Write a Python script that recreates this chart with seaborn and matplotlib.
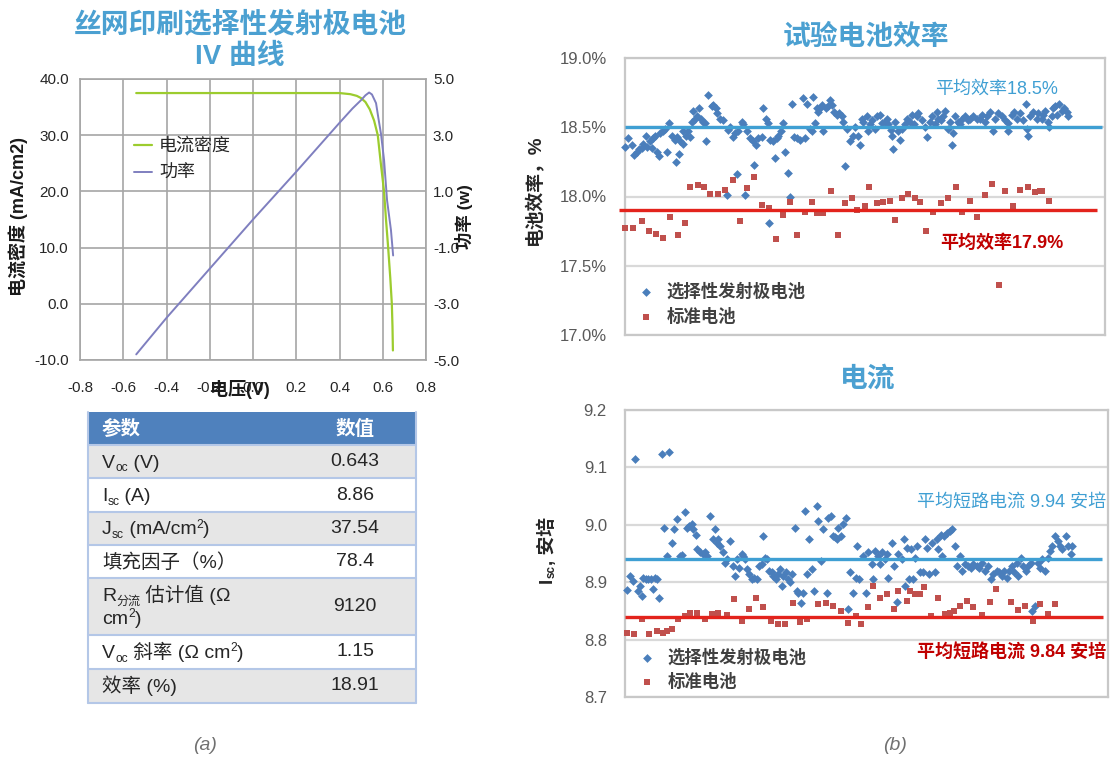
import numpy as np
import pandas as pd
import matplotlib
matplotlib.use("Agg")
import matplotlib.pyplot as plt
from matplotlib.patches import Rectangle
from matplotlib.lines import Line2D
import seaborn as sns

# ---------------------------------------------------------------- data
# IV curve of the screen-printed selective emitter cell
iv_voltage = [-0.54, 0.40, 0.45, 0.48, 0.50, 0.52, 0.54, 0.56, 0.577, 0.591,
              0.606, 0.615, 0.625, 0.635, 0.642, 0.645, 0.647]
iv_current = [37.5, 37.5, 37.3, 37.0, 36.6, 35.9, 34.6, 32.6, 30.0, 25.0,
              20.0, 15.0, 10.0, 4.5, 0.0, -4.0, -8.3]
pw_voltage = [-0.54, -0.40, -0.20, 0.00, 0.20, 0.40, 0.46, 0.50, 0.52, 0.537,
              0.55, 0.569, 0.58, 0.592, 0.606, 0.62, 0.638, 0.648]
pw_power = [-4.80, -3.50, -1.75, 0.00, 1.70, 3.44, 3.95, 4.25, 4.42, 4.52,
            4.45, 4.14, 3.60, 3.04, 2.12, 0.68, -0.38, -1.28]
iv_xticks = [-0.8, -0.6, -0.4, -0.2, 0.0, 0.2, 0.4, 0.6, 0.8]
iv_yticks = [-10, 0, 10, 20, 30, 40]
pw_yticks = [-5, -3, -1, 1, 3, 5]

# Parameter table
table_header = ["参数", "数值"]
table_params = [
    [[("V", ""), ("oc", "sub"), (" (V)", "")]],
    [[("I", ""), ("sc", "sub"), (" (A)", "")]],
    [[("J", ""), ("sc", "sub"), (" (mA/cm", ""), ("2", "sup"), (")", "")]],
    [[("填充因子（%）", "")]],
    [[("R", ""), ("分流", "sub"), (" 估计值 (Ω", "")],
     [("cm", ""), ("2", "sup"), (")", "")]],
    [[("V", ""), ("oc", "sub"), (" 斜率 (Ω cm", ""), ("2", "sup"), (")", "")]],
    [[("效率 (%)", "")]],
]
table_values = ["0.643", "8.86", "37.54", "78.4", "9120", "1.15", "18.91"]

# Cell efficiency (%) per test cell: (cell position, value)
eff_selective = [
    (0.0, 18.36), (1.7, 18.42), (3.3, 18.37), (4.5, 18.30), (5.8, 18.32), (7.2, 18.34),
    (8.3, 18.35), (9.2, 18.38), (10.5, 18.44), (11.2, 18.36), (12.5, 18.40), (13.3, 18.35),
    (14.2, 18.42), (15.0, 18.44), (15.8, 18.32), (17.2, 18.29), (17.5, 18.46), (18.8, 18.47),
    (20.0, 18.49), (21.2, 18.32), (22.2, 18.53), (23.3, 18.44), (25.0, 18.41), (25.3, 18.25),
    (25.8, 18.43), (27.2, 18.31), (27.5, 18.40), (28.8, 18.38), (29.2, 18.47), (30.5, 18.44),
    (31.7, 18.47), (32.5, 18.43), (33.3, 18.54), (34.2, 18.62), (35.0, 18.56), (36.2, 18.58),
    (37.2, 18.64), (37.8, 18.56), (38.8, 18.54), (40.0, 18.53), (40.5, 18.40), (41.7, 18.73),
    (43.3, 18.65), (44.2, 18.66), (45.5, 18.64), (46.2, 18.60), (47.5, 18.56), (49.2, 18.55),
    (50.8, 18.01), (51.7, 18.48), (52.5, 18.50), (53.8, 18.43), (55.0, 18.46), (55.8, 18.16),
    (56.7, 18.47), (58.3, 18.54), (59.2, 18.52), (60.0, 18.01), (60.8, 18.47), (62.5, 18.42),
    (64.2, 18.40), (64.5, 18.23), (65.5, 18.37), (66.7, 18.42), (68.3, 18.43), (69.2, 18.64),
    (70.5, 18.56), (71.7, 18.53), (72.2, 17.81), (72.5, 18.41), (73.8, 18.40), (75.0, 18.28),
    (75.8, 18.42), (76.7, 18.44), (77.8, 18.47), (79.2, 18.53), (80.0, 18.32), (81.7, 18.17),
    (82.5, 18.00), (83.3, 18.67), (84.5, 18.43), (85.8, 18.42), (87.5, 18.41), (88.8, 18.71),
    (90.0, 18.42), (91.2, 18.67), (92.5, 18.49), (93.3, 18.47), (94.2, 18.72), (95.0, 18.53),
    (95.8, 18.64), (96.7, 18.61), (97.5, 18.64), (98.3, 18.66), (99.2, 18.47), (100.5, 18.64),
    (101.7, 18.65), (102.5, 18.70), (103.3, 18.66), (104.5, 18.61), (105.8, 18.59), (107.2, 18.60),
    (108.3, 18.58), (109.2, 18.54), (110.0, 18.22), (110.8, 18.49), (112.5, 18.40), (113.8, 18.44),
    (115.0, 18.50), (116.7, 18.44), (117.5, 18.37), (118.3, 18.56), (119.2, 18.54), (120.8, 18.58),
    (121.7, 18.47), (122.5, 18.52), (123.3, 18.55), (125.0, 18.49), (125.8, 18.58), (127.5, 18.59),
    (128.3, 18.53), (130.0, 18.54), (130.8, 18.56), (131.7, 18.52), (133.0, 18.48), (133.3, 18.44),
    (134.2, 18.34), (135.0, 18.54), (136.3, 18.47), (137.5, 18.41), (138.3, 18.49), (140.0, 18.52),
    (140.8, 18.56), (142.5, 18.54), (143.3, 18.59), (144.7, 18.52), (145.8, 18.58), (146.7, 18.60),
    (148.3, 18.55), (150.0, 18.50), (150.8, 18.43), (152.5, 18.54), (153.3, 18.58), (155.0, 18.52),
    (155.8, 18.61), (156.7, 18.56), (158.0, 18.55), (159.2, 18.58), (160.0, 18.62), (161.3, 18.49),
    (162.5, 18.54), (163.3, 18.37), (164.2, 18.46), (165.0, 18.58), (166.3, 18.54), (167.5, 18.52),
    (168.3, 18.56), (170.0, 18.58), (171.7, 18.55), (172.5, 18.56), (174.2, 18.58), (175.8, 18.56),
    (177.5, 18.56), (178.3, 18.59), (180.0, 18.54), (180.8, 18.58), (182.5, 18.61), (184.2, 18.47),
    (185.0, 18.56), (186.7, 18.60), (188.3, 18.58), (190.0, 18.55), (191.3, 18.47), (191.7, 18.53),
    (193.3, 18.59), (194.7, 18.61), (195.8, 18.56), (197.5, 18.60), (199.2, 18.55), (200.3, 18.67),
    (200.8, 18.49), (201.7, 18.44), (202.5, 18.58), (204.2, 18.61), (205.8, 18.56), (206.7, 18.60),
    (208.3, 18.56), (209.2, 18.59), (210.0, 18.62), (211.3, 18.54), (212.0, 18.50), (213.3, 18.58),
    (214.2, 18.64), (215.0, 18.65), (215.8, 18.59), (217.0, 18.67), (218.3, 18.62), (219.7, 18.64),
    (220.8, 18.61), (221.7, 18.58),
]
eff_standard = [
    (0.0, 17.77), (4.2, 17.77), (8.3, 17.82), (12.2, 17.75), (15.5, 17.73), (18.8, 17.70),
    (22.5, 17.85), (26.3, 17.72), (30.0, 17.81), (32.5, 18.07), (36.7, 18.08), (39.5, 18.07),
    (42.5, 18.02), (46.7, 18.02), (50.0, 18.05), (54.2, 18.12), (57.5, 17.82), (60.8, 18.06),
    (64.5, 18.14), (68.3, 17.94), (72.2, 17.92), (75.5, 17.69), (78.8, 17.87), (82.5, 17.96),
    (86.2, 17.72), (90.0, 17.89), (93.3, 17.96), (96.2, 17.88), (99.2, 17.88), (102.8, 18.04),
    (106.7, 17.72), (110.0, 17.95), (113.3, 17.99), (115.8, 17.90), (120.0, 17.93), (122.0, 18.07),
    (125.8, 17.95), (129.2, 17.96), (132.5, 17.97), (135.0, 17.83), (138.3, 17.99), (141.3, 18.02),
    (145.0, 17.99), (147.5, 17.96), (150.3, 17.75), (154.2, 17.89), (158.0, 17.95), (161.7, 17.99),
    (165.3, 18.07), (168.7, 17.89), (172.5, 17.97), (175.8, 17.85), (180.0, 18.01), (183.3, 18.09),
    (187.0, 17.36), (190.0, 18.04), (194.2, 17.93), (197.5, 18.05), (201.3, 18.07), (205.0, 18.03),
    (207.5, 18.04), (208.7, 18.04), (212.0, 17.97),
]
eff_mean_selective = 18.5
eff_mean_standard = 17.9
eff_yticks = [17.0, 17.5, 18.0, 18.5, 19.0]

# Short-circuit current (A) per test cell: (cell position, value)
cur_selective = [
    (1.2, 8.887), (2.5, 8.911), (4.2, 8.902), (5.0, 9.114), (6.7, 8.885), (7.5, 8.894),
    (8.3, 8.876), (9.2, 8.908), (10.5, 8.906), (11.7, 8.905), (12.8, 8.906), (14.2, 8.888),
    (15.0, 8.908), (16.2, 8.906), (17.2, 8.873), (18.3, 9.123), (19.5, 8.995), (20.8, 8.946),
    (22.2, 9.127), (23.3, 8.969), (24.5, 8.992), (25.8, 9.010), (27.5, 8.946), (28.3, 8.948),
    (30.0, 9.022), (31.2, 8.995), (32.2, 8.998), (33.3, 9.001), (34.2, 8.992), (35.5, 8.983),
    (36.2, 8.957), (37.5, 8.952), (38.8, 8.949), (40.0, 8.952), (41.2, 8.946), (42.5, 9.015),
    (43.8, 8.975), (45.0, 8.993), (45.8, 8.969), (46.7, 8.975), (47.5, 8.963), (48.8, 8.952),
    (50.0, 8.934), (50.8, 8.940), (52.5, 8.972), (53.8, 8.928), (55.0, 8.911), (55.8, 8.940),
    (57.2, 8.925), (58.3, 8.949), (59.2, 8.946), (60.0, 8.940), (61.2, 8.923), (62.2, 8.914),
    (63.3, 8.905), (64.5, 8.908), (65.8, 8.905), (67.2, 8.928), (68.3, 8.931), (69.2, 8.981),
    (70.0, 8.943), (70.8, 8.940), (72.2, 8.920), (73.3, 8.917), (74.2, 8.911), (75.5, 8.905),
    (76.7, 8.914), (77.5, 8.923), (78.3, 8.894), (79.2, 8.911), (80.5, 8.917), (81.7, 8.905),
    (82.5, 8.900), (83.3, 8.914), (85.2, 8.995), (85.8, 8.885), (86.7, 8.882), (87.8, 8.864),
    (88.8, 8.882), (90.0, 9.024), (90.8, 8.914), (92.2, 8.976), (93.3, 8.923), (94.5, 8.885),
    (95.8, 9.033), (96.7, 9.007), (97.8, 8.937), (99.2, 8.993), (100.8, 8.882), (101.7, 9.012),
    (102.8, 9.015), (103.8, 8.981), (105.0, 8.978), (105.8, 8.975), (106.7, 8.995), (107.8, 8.981),
    (109.2, 9.001), (110.5, 9.012), (111.7, 8.853), (112.5, 8.917), (113.8, 8.882), (115.5, 8.908),
    (116.2, 8.963), (117.2, 8.905), (119.2, 8.946), (120.3, 8.882), (121.7, 8.952), (123.3, 8.931),
    (124.2, 8.905), (125.0, 8.954), (126.3, 8.946), (127.5, 8.931), (128.7, 8.952), (130.0, 8.940),
    (130.8, 8.949), (131.7, 8.908), (133.3, 8.969), (134.7, 8.928), (135.8, 8.865), (136.7, 8.949),
    (138.3, 8.940), (139.7, 8.975), (140.0, 8.894), (140.8, 8.960), (142.0, 8.905), (143.0, 8.957),
    (144.2, 8.905), (145.0, 8.943), (145.8, 8.963), (147.5, 8.917), (149.2, 8.917), (150.0, 8.975),
    (150.8, 8.960), (152.0, 8.914), (153.3, 8.969), (155.0, 8.917), (155.8, 8.975), (156.7, 8.957),
    (158.0, 8.983), (158.7, 8.946), (159.7, 8.981), (160.8, 8.986), (162.5, 8.989), (163.7, 8.992),
    (165.0, 8.963), (165.8, 8.928), (167.5, 8.946), (168.7, 8.920), (170.0, 8.931), (171.7, 8.928),
    (173.0, 8.925), (174.2, 8.931), (175.8, 8.928), (177.0, 8.925), (178.3, 8.934), (180.0, 8.920),
    (181.7, 8.928), (183.0, 8.905), (184.2, 8.914), (185.8, 8.920), (187.0, 8.917), (188.3, 8.911),
    (189.7, 8.920), (190.8, 8.908), (192.0, 8.920), (193.3, 8.928), (194.7, 8.917), (195.8, 8.934),
    (196.7, 8.911), (198.0, 8.943), (199.2, 8.928), (200.3, 8.920), (201.7, 8.928), (203.0, 8.934),
    (203.7, 8.850), (205.0, 8.859), (206.3, 8.934), (207.5, 8.925), (208.7, 8.940), (210.0, 8.920),
    (211.3, 8.943), (212.5, 8.954), (213.7, 8.963), (215.0, 8.981), (216.3, 8.972), (217.5, 8.963),
    (218.7, 8.957), (220.3, 8.981), (221.7, 8.963), (223.0, 8.949), (223.7, 8.963),
]
cur_standard = [
    (0.8, 8.812), (4.5, 8.809), (8.3, 8.836), (12.2, 8.809), (15.8, 8.815), (19.2, 8.812),
    (20.8, 8.815), (23.3, 8.819), (26.7, 8.836), (30.0, 8.841), (32.5, 8.846), (36.2, 8.846),
    (40.0, 8.836), (43.3, 8.844), (46.7, 8.846), (50.8, 8.843), (54.5, 8.870), (58.3, 8.832),
    (62.2, 8.853), (65.5, 8.872), (68.8, 8.856), (72.8, 8.833), (76.7, 8.827), (80.0, 8.827),
    (83.8, 8.864), (87.5, 8.831), (91.2, 8.836), (96.7, 8.862), (100.5, 8.863), (104.2, 8.859),
    (107.8, 8.850), (111.3, 8.829), (115.5, 8.841), (118.0, 8.827), (121.7, 8.856), (124.2, 8.894),
    (127.5, 8.873), (130.8, 8.879), (134.7, 8.853), (136.7, 8.885), (140.8, 8.867), (142.5, 8.885),
    (145.0, 8.879), (147.5, 8.879), (149.7, 8.891), (153.0, 8.841), (156.3, 8.872), (160.0, 8.844),
    (162.5, 8.847), (164.7, 8.850), (167.5, 8.859), (170.8, 8.867), (174.2, 8.856), (178.3, 8.843),
    (182.5, 8.865), (185.3, 8.888), (193.0, 8.865), (196.3, 8.852), (200.0, 8.859), (204.2, 8.833),
    (207.5, 8.862), (211.3, 8.844), (215.0, 8.862),
]
cur_mean_selective = 8.94
cur_mean_standard = 8.84
cur_yticks = [8.7, 8.8, 8.9, 9.0, 9.1, 9.2]

# ---------------------------------------------------------------- style
sns.set_style("white")
FONT = ["Liberation Sans", "Noto Sans CJK SC", "DejaVu Sans"]
plt.rcParams["font.family"] = FONT

TITLE_BLUE = "#4ba0d1"
GREEN = "#9ccc2e"
PURPLE = "#7f7fbf"
PT_BLUE = "#4a7ebb"
PT_RED = "#c0504d"
LINE_BLUE = "#3f9fd3"
LINE_RED = "#e3231c"
TICK_GRAY = "#595959"

W, H = 1112, 760
fig = plt.figure(figsize=(W / 100, H / 100), dpi=100)
fig.patch.set_facecolor("white")
renderer = fig.canvas.get_renderer()


def fx(x):
    return x / W


def fy(y):
    return 1 - y / H


def rect(l, t, r, b):
    return [fx(l), fy(b), (r - l) / W, (b - t) / H]


# ---------------------------------------------------------------- (a) IV curve
ax = fig.add_axes(rect(80, 79, 426, 360))
iv_df = pd.DataFrame({"V": iv_voltage, "J": iv_current})
pw_df = pd.DataFrame({"V": pw_voltage, "P": pw_power})
sns.lineplot(data=iv_df, x="V", y="J", ax=ax, color=GREEN, lw=1.6, legend=False)
ax.set_xlim(-0.8, 0.8)
ax.set_ylim(-10, 40)
ax.set_xticks(iv_xticks)
ax.set_yticks(iv_yticks)
ax.set_xticklabels([f"{v:.1f}" for v in iv_xticks])
ax.set_yticklabels([f"{v:.1f}" for v in iv_yticks])
ax.grid(True, color="#a6a6a6", lw=1.2)
ax.set_axisbelow(True)
for s in ax.spines.values():
    s.set_color("#a6a6a6")
    s.set_linewidth(1.2)
ax.tick_params(length=0, labelsize=11, colors="#262626")
ax.tick_params(axis="x", pad=15)
ax.tick_params(axis="y", pad=8)
ax.set_xlabel("电压(V)", fontsize=13, fontweight="bold", color="#1a1a1a")
ax.xaxis.set_label_coords(0.462, -0.072)
ax.set_ylabel("电流密度 (mA/cm2)", fontsize=13, fontweight="bold", color="#1a1a1a")
ax.yaxis.set_label_coords(-0.15, 0.51)

ax2 = ax.twinx()
sns.lineplot(data=pw_df, x="V", y="P", ax=ax2, color=PURPLE, lw=1.4, legend=False)
ax2.set_ylim(-5, 5)
ax2.set_yticks(pw_yticks)
ax2.set_yticklabels([f"{v:.1f}" for v in pw_yticks])
ax2.tick_params(length=0, labelsize=11, colors="#262626", pad=5)
ax2.set_ylabel("功率 (w)", fontsize=12.5, fontweight="bold", color="#1a1a1a")
ax2.yaxis.set_label_coords(1.085, 0.51)
for s in ax2.spines.values():
    s.set_visible(False)

iv_handles = [Line2D([], [], color=GREEN, lw=1.6), Line2D([], [], color=PURPLE, lw=1.4)]
ax2.legend(iv_handles, ["电流密度", "功率"], loc="upper left",
           bbox_to_anchor=(0.155, 0.79), frameon=False, fontsize=13,
           handlelength=1.0, handletextpad=0.4, labelspacing=0.55,
           borderpad=0, borderaxespad=0)

fig.text(fx(240), fy(25), "丝网印刷选择性发射极电池", ha="center", va="center",
         fontsize=20, fontweight="bold", color=TITLE_BLUE)
fig.text(fx(240), fy(57), "IV 曲线", ha="center", va="center",
         fontsize=20, fontweight="bold", color=TITLE_BLUE)

# ---------------------------------------------------------------- (a) table
row_bounds = [(445, 478), (478, 512), (512, 545), (545, 578), (578, 635), (635, 669), (669, 703)]
TL, TR = 88, 416
fig.add_artist(Rectangle((fx(TL), fy(445)), (TR - TL) / W, (445 - 412) / H,
                         transform=fig.transFigure, facecolor="#4f81bd", edgecolor="none"))
for i, (t, b) in enumerate(row_bounds):
    fc = "#e6e6e6" if i % 2 == 0 else "white"
    fig.add_artist(Rectangle((fx(TL), fy(b)), (TR - TL) / W, (b - t) / H,
                             transform=fig.transFigure, facecolor=fc, edgecolor="none"))
for yb in [445] + [b for _, b in row_bounds]:
    fig.add_artist(Line2D([fx(TL), fx(TR)], [fy(yb), fy(yb)], transform=fig.transFigure,
                          color="#b4c7e7", lw=1.5))
for xb in (TL, TR):
    fig.add_artist(Line2D([fx(xb), fx(xb)], [fy(412), fy(703)], transform=fig.transFigure,
                          color="#b4c7e7", lw=1.5))

fig.text(fx(102), fy(429), table_header[0], ha="left", va="center",
         fontsize=14, fontweight="bold", color="white")
fig.text(fx(355), fy(429), table_header[1], ha="center", va="center",
         fontsize=14, fontweight="bold", color="white")

TXT = "#262626"


def draw_runs(x, y_base, runs, size):
    """Left-to-right text with sub/superscript pieces, baseline at y_base (px)."""
    cx = x
    for txt, kind in runs:
        fs = size * 0.62 if kind else size
        dy = {"sub": 4, "sup": -7}.get(kind, 0)
        t = fig.text(fx(cx), fy(y_base + dy), txt, ha="left", va="baseline",
                     fontsize=fs, color=TXT)
        cx += t.get_window_extent(renderer).width


def draw_vruns(x, y_center, runs, size, color):
    """Bottom-to-top rotated text with subscript pieces, centred on (x, y_center) px."""
    pieces = []
    for txt, kind in runs:
        fs = size * 0.62 if kind else size
        t = fig.text(0, 0, txt, rotation=90, ha="center", va="bottom",
                     fontsize=fs, fontweight="bold", color=color)
        pieces.append((t, kind, t.get_window_extent(renderer).height))
    total = sum(h for _, _, h in pieces)
    cy = y_center + total / 2
    for t, kind, h in pieces:
        dx = 5 if kind == "sub" else 0
        t.set_position((fx(x + dx), fy(cy)))
        cy -= h


for (t, b), lines, val in zip(row_bounds, table_params, table_values):
    mid = (t + b) / 2
    n = len(lines)
    for k, runs in enumerate(lines):
        base = mid + 6 + (k - (n - 1) / 2) * 23
        draw_runs(102, base, runs, 14)
    fig.text(fx(355), fy(mid), val, ha="center", va="center", fontsize=14, color=TXT)

fig.text(fx(205), fy(746), "(a)", ha="center", va="center", fontsize=14,
         style="italic", color="#707070")

# ---------------------------------------------------------------- (b) scatter panels


def scatter_panel(box, sel, std, mean_sel, mean_std, yticks, fmt, sel_span, std_span):
    a = fig.add_axes(rect(*box))
    d_sel = pd.DataFrame(sel, columns=["cell", "value"])
    d_std = pd.DataFrame(std, columns=["cell", "value"])
    sns.scatterplot(data=d_sel, x="cell", y="value", ax=a, marker="D", s=20,
                    color=PT_BLUE, linewidth=0, label="选择性发射极电池", zorder=3, clip_on=False)
    sns.scatterplot(data=d_std, x="cell", y="value", ax=a, marker="s", s=24,
                    color=PT_RED, linewidth=0, label="标准电池", zorder=3, clip_on=False)
    a.hlines(mean_sel, *sel_span, color=LINE_BLUE, lw=2.4, zorder=4, clip_on=False)
    a.hlines(mean_std, *std_span, color=LINE_RED, lw=2.4, zorder=4, clip_on=False)
    a.set_xlim(0, (box[2] - box[0]) / 2)
    a.set_ylim(yticks[0], yticks[-1])
    a.set_yticks(yticks)
    a.set_yticklabels([fmt(v) for v in yticks])
    a.set_xticks([])
    a.set_xlabel("")
    a.set_ylabel("")
    a.yaxis.grid(True, color="#d9d9d9", lw=1.6)
    a.set_axisbelow(True)
    for s in a.spines.values():
        s.set_color("#c8c8c8")
        s.set_linewidth(1.6)
    a.tick_params(length=0, labelsize=12, colors=TICK_GRAY, pad=13)
    return a


axe = scatter_panel((625, 58, 1105, 335), eff_selective, eff_standard,
                    eff_mean_selective, eff_mean_standard, eff_yticks,
                    lambda v: f"{v:.1f}%", (0, 238.5), (-3, 236))
axe.legend(loc="upper left", bbox_to_anchor=(0.025, 0.19), frameon=False,
           prop={"size": 12.5, "weight": "bold"}, labelcolor="#404040",
           handlelength=1.0, handletextpad=0.7, labelspacing=0.45,
           borderpad=0, borderaxespad=0)

axc = scatter_panel((625, 410, 1108, 697), cur_selective, cur_standard,
                    cur_mean_selective, cur_mean_standard, cur_yticks,
                    lambda v: f"{v:.1f}", (0, 238.5), (0, 239))
axc.legend(loc="upper left", bbox_to_anchor=(0.027, 0.172), frameon=False,
           prop={"size": 12.5, "weight": "bold"}, labelcolor="#404040",
           handlelength=1.0, handletextpad=0.7, labelspacing=0.45,
           borderpad=0, borderaxespad=0)

fig.text(fx(866), fy(37), "试验电池效率", ha="center", va="center",
         fontsize=20, fontweight="bold", color=TITLE_BLUE)
fig.text(fx(868), fy(380), "电流", ha="center", va="center",
         fontsize=20, fontweight="bold", color=TITLE_BLUE)

fig.text(fx(535), fy(190), "电池效率，%", ha="center", va="center", rotation=90,
         fontsize=13.5, fontweight="bold", color="#262626")
draw_vruns(547, 550, [("I", ""), ("sc", "sub"), (", 安培", "")], 13.5, "#262626")

fig.text(fx(1058), fy(89), f"平均效率{eff_mean_selective:.1f}%", ha="right", va="center",
         fontsize=13, color=LINE_BLUE)
fig.text(fx(1063), fy(243), f"平均效率{eff_mean_standard:.1f}%", ha="right", va="center",
         fontsize=13, fontweight="bold", color="#c00000")
fig.text(fx(1106), fy(502), "平均短路电流 9.94 安培", ha="right", va="center",
         fontsize=13, color=LINE_BLUE)
fig.text(fx(1106), fy(652), "平均短路电流 9.84 安培", ha="right", va="center",
         fontsize=13, fontweight="bold", color="#c00000")

fig.text(fx(895), fy(746), "(b)", ha="center", va="center", fontsize=14,
         style="italic", color="#707070")

fig.savefig("out.png", dpi=100, facecolor="white")
